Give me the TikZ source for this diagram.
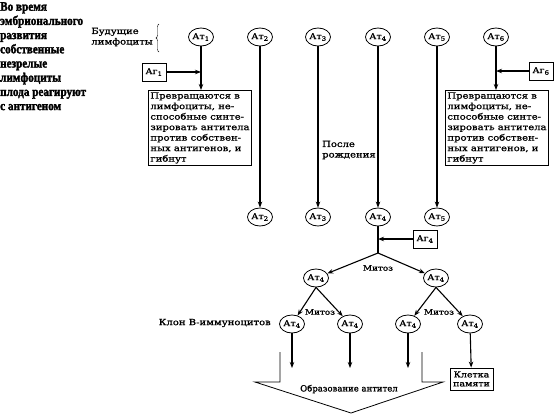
\documentclass[tikz,border=0pt]{standalone}
\usepackage{fontspec}
\setmainfont{DejaVu Serif}
\newfontfamily\leftfont[FakeStretch=0.86,FakeBold=2]{Liberation Serif Bold}
\newfontfamily\dfont[FakeStretch=1.18,FakeBold=1.2]{DejaVu Serif}
\newfontfamily\afont[FakeBold=1.2]{DejaVu Serif}
\usetikzlibrary{shapes.geometric,arrows.meta,decorations.pathreplacing}
\begin{document}
\begin{tikzpicture}[x=1pt,y=-1pt,
  cell/.style={ellipse,draw,line width=0.8pt,minimum width=25pt,minimum height=18pt,inner sep=0pt,font=\dfont\fontsize{8}{9}\selectfont},
  agbox/.style={draw,line width=0.8pt,minimum width=24pt,minimum height=18pt,inner sep=1pt,font=\dfont\fontsize{8}{9}\selectfont},
  txtbox/.style={draw,line width=0.8pt,align=left,anchor=north west,inner sep=2pt,minimum width=102pt,font=\dfont\fontsize{8.5}{10.5}\selectfont},
  lbl/.style={font=\dfont\fontsize{8.5}{10.5}\selectfont,inner sep=0pt},
  mlbl/.style={font=\dfont\fontsize{7.5}{9}\selectfont,inner sep=0pt},
  arr/.style={-{Stealth[length=6pt,width=4.5pt]},line width=1.1pt},
  ln/.style={line width=1.1pt},
  ]
\useasboundingbox (0,0) rectangle (557,416);
% left text
\node[anchor=north west,align=left,inner sep=0pt,font=\leftfont\fontsize{13}{14.2}\selectfont] (intro) at (0,2)
  {Во время\\эмбрионального\\развития\\собственные\\незрелые\\лимфоциты\\плода реагируют\\с антигеном};
% future lymphocytes
\node[lbl,anchor=east,align=left] (fut) at (153,37) {Будущие\\лимфоциты};
\draw[decorate,decoration={brace,amplitude=3pt}] (159,52) -- (159,24);
% top cells
\node[cell] (t1) at (201,37) {Ат\textsubscript{1}};
\node[cell] (t2) at (260,37) {Ат\textsubscript{2}};
\node[cell] (t3) at (318,37) {Ат\textsubscript{3}};
\node[cell] (t4) at (378,37) {Ат\textsubscript{4}};
\node[cell] (t5) at (437,37) {Ат\textsubscript{5}};
\node[cell] (t6) at (496,37) {Ат\textsubscript{6}};
% antigens
\node[agbox] (g1) at (154,72) {Аг\textsubscript{1}};
\node[agbox] (g6) at (541,71) {Аг\textsubscript{6}};
% boxes
\node[txtbox] (L) at (148,90) {Превращаются в\\лимфоциты, не-\\способные синте-\\зировать антитела\\против собствен-\\ных антигенов, и\\гибнут};
\node[txtbox,minimum width=94pt] (R) at (445,90) {Превращаются в\\лимфоциты, не-\\способные синте-\\зировать антитела\\против собствен-\\ных антигенов, и\\гибнут};
\draw[arr] (t1) -- (t1 |- L.north);
\draw[arr] (t6) -- (t6 |- R.north);
\draw[arr] (g1) -- (g1 -| t1);
\draw[arr] (g6) -- (g6 -| t6);
% bottom cells
\node[cell] (b2) at (260,217) {Ат\textsubscript{2}};
\node[cell] (b3) at (318,217) {Ат\textsubscript{3}};
\node[cell] (b4) at (378,217) {Ат\textsubscript{4}};
\node[cell] (b5) at (437,217) {Ат\textsubscript{5}};
\draw[arr] (t2) -- (b2);
\draw[arr] (t3) -- (b3);
\draw[arr] (t4) -- (b4);
\draw[arr] (t5) -- (b5);
\node[lbl,anchor=west,align=left] (after) at (322,150) {После\\рождения};
% antigen 4 and mitosis
\node[agbox] (g4) at (425,239) {Аг\textsubscript{4}};
\coordinate (br) at (378,253);
\draw[ln] (b4) -- (br);
\draw[arr] (g4) -- (g4 -| b4);
\node[cell] (m1) at (316,278) {Ат\textsubscript{4}};
\node[cell] (m2) at (436,278) {Ат\textsubscript{4}};
\draw[arr] (br) -- (m1);
\draw[arr] (br) -- (m2);
\node[mlbl] (mit0) at (378,268) {Митоз};
\node[cell] (c1) at (292,324) {Ат\textsubscript{4}};
\node[cell] (c2) at (350,324) {Ат\textsubscript{4}};
\node[cell] (c3) at (408,324) {Ат\textsubscript{4}};
\node[cell] (c4) at (470,324) {Ат\textsubscript{4}};
\draw[arr] (m1.south) -- (c1);
\draw[arr] (m1.south) -- (c2);
\draw[arr] (m2.south) -- (c3);
\draw[arr] (m2.south) -- (c4);
\node[mlbl] (mit1) at (320,312) {Митоз};
\node[mlbl] (mit2) at (439,312) {Митоз};
\node[lbl,anchor=east] (clone) at (271,323) {Клон В-иммуноцитов};
\node[agbox,align=center,font=\dfont\fontsize{8}{9}\selectfont,minimum width=43pt,minimum height=22pt,inner sep=1pt] (K) at (471.5,379) {Клетка\\памяти};
\coordinate (e1) at (292,368);
\coordinate (e2) at (350,368);
\coordinate (e3) at (408,368);
\draw[arr] (c1) -- (e1);
\draw[arr] (c2) -- (e2);
\draw[arr] (c3) -- (e3);
\draw[arr] (c4) -- (K);
% big arrow
\draw[line width=0.8pt] (280,352) -- (280,382) -- (255,382) -- (351,413) -- (443,382) -- (422,382) -- (422,352);
\node[inner sep=0pt,font=\afont\fontsize{8.5}{10}\selectfont] (abs) at (349,389) {Образование антител};
\end{tikzpicture}
\end{document}
